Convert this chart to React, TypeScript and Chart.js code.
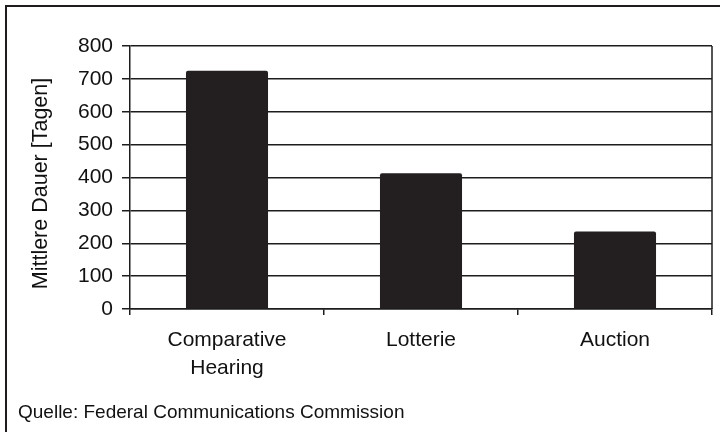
import React, { useEffect, useRef } from "react";
import { Chart, registerables } from "chart.js";

Chart.register(...registerables);

const categories: (string | string[])[] = [["Comparative", "Hearing"], "Lotterie", "Auction"];
const durations: number[] = [725, 413, 236];
const yTitle = "Mittlere Dauer [Tagen]";
const sourceText = "Quelle: Federal Communications Commission";

const FONT = "'Liberation Sans', Arial, sans-serif";
const INK = "#1e1c1d";

const framePlugin = {
  id: "frame",
  afterDraw(chart: any) {
    const { ctx, chartArea } = chart;
    ctx.save();
    ctx.strokeStyle = INK;
    ctx.lineWidth = 1.5;
    ctx.beginPath();
    ctx.moveTo(chartArea.right, chartArea.top);
    ctx.lineTo(chartArea.right, chartArea.bottom);
    ctx.stroke();
    ctx.lineWidth = 2;
    ctx.beginPath();
    ctx.moveTo(6, 440);
    ctx.lineTo(6, 6);
    ctx.lineTo(730, 6);
    ctx.stroke();
    // y-axis title
    ctx.translate(41, (chartArea.top + chartArea.bottom) / 2 + 6);
    ctx.rotate(-Math.PI / 2);
    ctx.fillStyle = "#111";
    ctx.font = `21.5px ${FONT}`;
    ctx.textAlign = "center";
    ctx.textBaseline = "middle";
    ctx.fillText(yTitle, 0, 0);
    ctx.restore();
  },
};

export default function App() {
  const ref = useRef<HTMLCanvasElement | null>(null);
  useEffect(() => {
    if (!ref.current) return;
    const chart = new Chart(ref.current, {
      type: "bar",
      data: {
        labels: categories,
        datasets: [
          {
            data: durations,
            backgroundColor: "#231f20",
            borderRadius: 2,
            borderSkipped: "bottom",
            categoryPercentage: 1,
            barPercentage: 0.423,
          },
        ],
      },
      options: {
        animation: false,
        responsive: true,
        maintainAspectRatio: false,
        layout: { padding: { top: 46, right: 8, bottom: 0, left: 0 } },
        plugins: { legend: { display: false }, tooltip: { enabled: false } },
        scales: {
          x: {
            afterFit: (s: any) => {
              s.height = 123;
            },
            grid: {
              drawOnChartArea: false,
              drawTicks: true,
              tickLength: 6,
              color: INK,
              lineWidth: 1.5,
              offset: true,
            },
            border: { display: true, color: INK, width: 1.5 },
            ticks: {
              color: "#111",
              font: { family: FONT, size: 21, lineHeight: 1.3 },
              padding: 12,
              maxRotation: 0,
            },
          },
          y: {
            min: 0,
            max: 800,
            afterFit: (s: any) => {
              s.width = 130;
            },
            grid: { color: INK, lineWidth: 1.5, tickLength: 8 },
            border: { display: true, color: INK, width: 1.5 },
            ticks: {
              stepSize: 100,
              color: "#111",
              font: { family: FONT, size: 21 },
              padding: 9,
            },
            title: { display: false },
          },
        },
      },
      plugins: [framePlugin],
    });
    return () => chart.destroy();
  }, []);

  return (
    <div style={{ position: "absolute", left: 0, top: 0, width: 720, height: 432, background: "#fff", overflow: "hidden" }}>
      <canvas ref={ref} />
      <div
        style={{
          position: "absolute",
          left: 18,
          top: 401,
          fontFamily: FONT,
          fontSize: 19,
          lineHeight: "22px",
          color: "#111",
          whiteSpace: "nowrap",
        }}
      >
        {sourceText}
      </div>
    </div>
  );
}
